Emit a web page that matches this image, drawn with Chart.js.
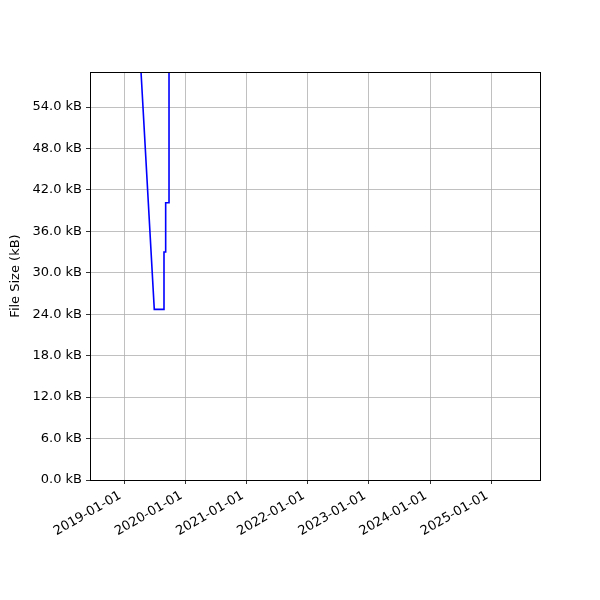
<!DOCTYPE html>
<html>
<head>
<meta charset="utf-8">
<script src="https://cdn.jsdelivr.net/npm/chart.js@4/dist/chart.umd.min.js"></script>
<style>
    html, body { margin: 0; padding: 0; background: #ffffff; }
    #wrap { width: 600px; height: 600px; }
</style>
</head>
<body>
<div id="wrap"><canvas id="graficoTamanho" width="600" height="600"></canvas></div>
<script>

// datas de cada medição e tamanho do arquivo (kB)
const datas = [
    "2019-03-15", "2019-06-29", "2019-08-26", "2019-08-26",
    "2019-09-05", "2019-09-05", "2019-09-25", "2019-09-25"
];
const tamanhosKB = [70.7, 24.7, 24.7, 33.0, 33.0, 40.15, 40.15, 64.0];

const anosTicks = [
    "2019-01-01", "2020-01-01", "2021-01-01", "2022-01-01",
    "2023-01-01", "2024-01-01", "2025-01-01"
];
const yTicks = [0, 6, 12, 18, 24, 30, 36, 42, 48, 54];

const limiteX = ["2018-06-10", "2025-10-19"];
const limiteY = [0, 59.07];

function ms(d) {
    return Date.parse(d + "T00:00:00Z");
}

const fonte = "'DejaVu Sans', sans-serif";

// moldura completa em volta da área do gráfico
const moldura = {
    id: "moldura",
    afterDraw(chart) {
        const a = chart.chartArea;
        const c = chart.ctx;
        c.save();
        c.strokeStyle = "#000000";
        c.lineWidth = 1;
        c.strokeRect(Math.round(a.left) + 0.5, Math.round(a.top) + 0.5,
            Math.round(a.right - a.left), Math.round(a.bottom - a.top));
        c.restore();
    }
};

const ctx = document.getElementById("graficoTamanho");

new Chart(ctx, {
    type: "line",
    data: {
        datasets: [{
            label: "File Size",
            data: datas.map(function(d, i) {
                return { x: ms(d), y: tamanhosKB[i] };
            }),
            borderColor: "#0000ff",
            borderWidth: 1.6,
            pointRadius: 0,
            tension: 0,
            fill: false
        }]
    },
    options: {
        responsive: false,
        animation: false,
        layout: {
            padding: { top: 72, right: 60, bottom: 0, left: 0 }
        },
        plugins: {
            legend: { display: false },
            tooltip: { enabled: false }
        },
        scales: {
            x: {
                type: "linear",
                min: ms(limiteX[0]),
                max: ms(limiteX[1]),
                afterBuildTicks: function(scale) {
                    scale.ticks = anosTicks.map(function(d) {
                        return { value: ms(d) };
                    });
                },
                afterFit: function(scale) {
                    scale.height = 120;
                },
                ticks: {
                    autoSkip: false,
                    maxRotation: 30,
                    minRotation: 30,
                    padding: 4,
                    labelOffset: -4,
                    color: "#000000",
                    font: { family: fonte, size: 13 },
                    callback: function(v) {
                        return new Date(v).toISOString().slice(0, 10);
                    }
                },
                grid: {
                    color: "#b0b0b0",
                    lineWidth: 0.8,
                    tickColor: "#000000",
                    tickLength: 4
                },
                border: { color: "#000000", width: 1 }
            },
            y: {
                min: limiteY[0],
                max: limiteY[1],
                afterBuildTicks: function(scale) {
                    scale.ticks = yTicks.map(function(v) {
                        return { value: v };
                    });
                },
                afterFit: function(scale) {
                    scale.width = 90;
                },
                ticks: {
                    padding: 4,
                    color: "#000000",
                    font: { family: fonte, size: 13 },
                    callback: function(v) {
                        return v.toFixed(1) + " kB";
                    }
                },
                title: {
                    display: true,
                    text: "File Size (kB)",
                    color: "#000000",
                    font: { family: fonte, size: 13 },
                    padding: { top: 8, bottom: 0 }
                },
                grid: {
                    color: "#b0b0b0",
                    lineWidth: 0.8,
                    tickColor: "#000000",
                    tickLength: 4
                },
                border: { color: "#000000", width: 1 }
            }
        }
    },
    plugins: [moldura]
});
</script>
</body>
</html>
